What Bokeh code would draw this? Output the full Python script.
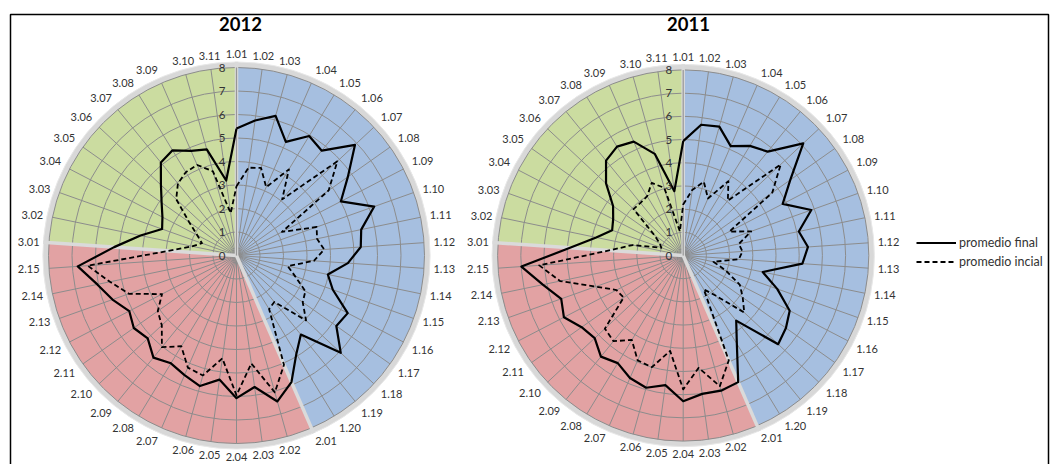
import numpy as np
from bokeh.plotting import figure
from bokeh.models import Range1d, Legend, LegendItem
from bokeh.embed import file_html
from bokeh.resources import INLINE
from bokeh.core.properties import value

# ---------------- data ----------------
categories = ["1.01", "1.02", "1.03", "1.04", "1.05", "1.06", "1.07", "1.08", "1.09", "1.10",
              "1.11", "1.12", "1.13", "1.14", "1.15", "1.16", "1.17", "1.18", "1.19", "1.20",
              "2.01", "2.02", "2.03", "2.04", "2.05", "2.06", "2.07", "2.08", "2.09", "2.10",
              "2.11", "2.12", "2.13", "2.14", "2.15",
              "3.01", "3.02", "3.03", "3.04", "3.05", "3.06", "3.07", "3.08", "3.09", "3.10", "3.11"]

final_2012 = [5.4, 5.8, 6.17, 5.27, 5.95, 5.75, 6.9, 5.8, 5.0, 6.22,
               5.42, 5.3, 4.75, 3.97, 4.35, 5.33, 5.2, 6.07, 4.34, 4.9,
               5.87, 6.45, 5.65, 6.07, 5.33, 5.77, 5.55, 5.37, 5.6, 5.17,
               5.35, 5.14, 5.6, 6.05, 6.77,
               5.22, 4.17, 3.36, 3.55, 3.9, 4.4, 5.1, 5.24, 4.85, 4.69, 3.22]
inicial_2012 = [2.95, 3.77, 3.87, 3.17, 4.29, 3.08, 5.87, 4.8, 2.18, 3.62,
                3.5, 3.74, 3.3, 2.23, 2.65, 3.3, 3.45, 4.05, 2.55, 2.67,
                5.07, 6.05, 4.64, 5.95, 4.42, 5.3, 5.2, 4.52, 5.03, 4.35,
                4.1, 3.57, 4.86, 5.5, 6.35,
                2.9, 1.93, 1.56, 1.88, 2.47, 3.51, 3.95, 4.15, 4.2, 3.72, 1.82]
final_2011 = [4.93, 5.69, 5.77, 5.14, 5.53, 5.77, 7.08, 5.65, 4.83, 5.86,
              5.09, 5.39, 5.15, 3.5, 4.3, 5.17, 5.42, 5.6, 3.62, 4.45,
              5.95, 6.05, 6.02, 6.28, 5.64, 5.92, 5.76, 5.43, 5.62, 5.22,
              5.36, 5.79, 5.58, 6.18, 6.99,
              4.89, 3.83, 3.25, 3.4, 3.7, 4.55, 5.27, 5.49, 5.35, 4.55, 2.8]
inicial_2011 = [2.2, 2.85, 3.3, 2.68, 3.75, 3.05, 5.75, 4.7, 2.24, 3.11,
                2.45, 2.56, 2.4, 1.33, 1.96, 2.75, 3.14, 3.6, 2.24, 1.71,
                4.93, 5.85, 4.89, 5.77, 4.15, 5.0, 4.93, 4.26, 4.76, 4.62,
                3.14, 3.24, 4.0, 5.42, 6.22,
                3.2, 2.22, 1.0, 1.14, 1.52, 2.93, 2.92, 2.99, 3.41, 3.03, 1.05]

radial_ticks = [0, 1, 2, 3, 4, 5, 6, 7, 8]
sector_start = ["1.01", "2.01", "3.01"]
sector_colors = ["#A6BFE0", "#E2A2A3", "#CBDCA0"]
series_names = ["promedio final", "promedio incial"]
years = ["2012", "2011"]

# ---------------- layout ----------------
W, H = 1056, 464
def sx(x):
    return x
def sy(y):
    return H - y

FONT = "Lato"
GRID = "#8c8c8c"
TXT = "#333333"
RMAX = radial_ticks[-1]

p = figure(width=W, height=H, output_backend="svg", toolbar_location=None,
           x_range=Range1d(0, W), y_range=Range1d(0, H),
           x_axis_location=None, y_axis_location=None, min_border=0)
p.grid.visible = False
p.outline_line_color = None
p.background_fill_color = "white"

n = len(categories)
theta = np.arange(n) * 2 * np.pi / n  # clockwise from top

# outer frame
p.quad(left=[sx(10)], right=[sx(1048)], top=[sy(14)], bottom=[sy(520)],
       fill_color=None, line_color="black", line_width=1.5)

charts = [
    dict(title=years[0], cx=sx(236), cy=sy(255), u=23.5, tx=sx(240),
         fin=final_2012, ini=inicial_2012),
    dict(title=years[1], cx=sx(682.7), cy=sy(255), u=23.2, tx=sx(688),
         fin=final_2011, ini=inicial_2011),
]

legend_renderers = None
for ch in charts:
    cx, cy, u = ch["cx"], ch["cy"], ch["u"]
    R = RMAX * u
    ring_w = 0.24 * u
    # outer ring
    p.annulus(x=[cx], y=[cy], inner_radius=R - 0.5, outer_radius=R + ring_w,
              fill_color="#d8d8d8", line_color=None)
    p.circle(x=[cx], y=[cy], radius=R + ring_w, fill_color=None,
             line_color="#e8e8e8", line_width=1)
    # colored sectors
    idx = [categories.index(s) for s in sector_start] + [n]
    for k in range(3):
        t1 = idx[k] * 2 * np.pi / n
        t2 = idx[k + 1] * 2 * np.pi / n
        p.wedge(x=[cx], y=[cy], radius=R, start_angle=np.pi / 2 - t1,
                end_angle=np.pi / 2 - t2, direction="clock",
                fill_color=sector_colors[k], line_color=None)
    # rings
    rings = [t * u for t in radial_ticks[1:]]
    p.circle(x=[cx] * len(rings), y=[cy] * len(rings), radius=rings,
             fill_color=None, line_color=GRID, line_width=1)
    # spokes
    p.segment(x0=[cx] * n, y0=[cy] * n, x1=cx + R * np.sin(theta),
              y1=cy + R * np.cos(theta), line_color=GRID, line_width=1)
    # sector boundaries
    bt = np.array([idx[0], idx[1], idx[2]]) * 2 * np.pi / n
    p.segment(x0=[cx] * 3, y0=[cy] * 3, x1=cx + (R + ring_w) * np.sin(bt),
              y1=cy + (R + ring_w) * np.cos(bt), line_color="#dadada", line_width=3.5)
    p.segment(x0=[cx], y0=[cy], x1=[cx], y1=[cy + R], line_color="#969696", line_width=1.2)

    # series
    lines = []
    for vals, dash, lw in [(ch["fin"], "solid", 2.2), (ch["ini"], "5 3", 1.8)]:
        v = np.array(vals + vals[:1])
        t = np.append(theta, theta[:1])
        r = p.line(x=cx + v * u * np.sin(t), y=cy + v * u * np.cos(t),
                   line_color="black", line_width=lw, line_dash=dash, line_join="round")
        lines.append(r)
    if legend_renderers is None:
        legend_renderers = lines

    # radial tick labels
    p.text(x=[cx - 11] * len(radial_ticks), y=[cy + t * u for t in radial_ticks],
           text=[str(t) for t in radial_ticks], text_align="right", text_baseline="middle",
           text_font=value(FONT), text_font_size="11.5px", text_color=TXT)

    # category labels
    RL = 8.4 * u
    groups = {}
    for i, c in enumerate(categories):
        s, co = np.sin(theta[i]), np.cos(theta[i])
        al = "center" if abs(s) < 0.3 else ("left" if s > 0 else "right")
        bl = "middle" if abs(co) < 0.45 else ("bottom" if co > 0 else "top")
        g = groups.setdefault((al, bl), ([], [], []))
        g[0].append(cx + RL * s)
        g[1].append(cy + RL * co)
        g[2].append(c)
    for (al, bl), (xs, ys, ts) in groups.items():
        p.text(x=xs, y=ys, text=ts, text_align=al, text_baseline=bl,
               text_font=value(FONT), text_font_size="11px", text_color=TXT)

    # title
    p.text(x=[ch["tx"]], y=[sy(23.5)], text=[ch["title"]], text_align="center",
           text_baseline="middle", text_font=value(FONT), text_font_size="18.5px",
           text_font_style="bold", text_color="black")

legend = Legend(items=[LegendItem(label=series_names[0], renderers=[legend_renderers[0]]),
                       LegendItem(label=series_names[1], renderers=[legend_renderers[1]])],
                location=(sx(916), sy(269)), orientation="vertical",
                glyph_width=40, glyph_height=15, label_height=15, spacing=4,
                padding=0, margin=0, label_standoff=3,
                label_text_font=FONT, label_text_font_size="12.5px", label_text_color=TXT,
                border_line_color=None, background_fill_alpha=0)
p.add_layout(legend)

open("out.html", "w").write(file_html(p, INLINE))
